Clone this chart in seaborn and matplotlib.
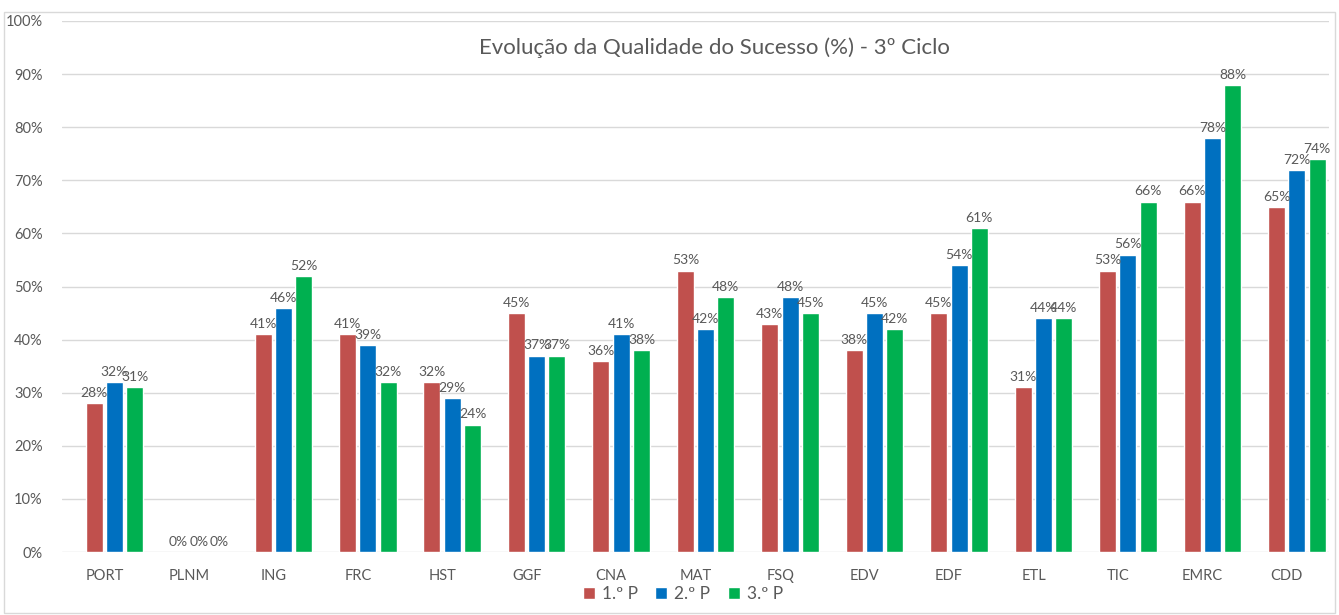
import pandas as pd
import numpy as np
import seaborn as sns
import matplotlib.pyplot as plt
from matplotlib.patches import Rectangle
from matplotlib.transforms import ScaledTranslation

# disciplinas e valores (%) por periodo
disciplinas = ['PORT', 'PLNM', 'ING', 'FRC', 'HST', 'GGF', 'CNA', 'MAT', 'FSQ', 'EDV', 'EDF', 'ETL', 'TIC', 'EMRC', 'CDD']
p1 = [28, 0, 41, 41, 32, 45, 36, 53, 43, 38, 45, 31, 53, 66, 65]
p2 = [32, 0, 46, 39, 29, 37, 41, 42, 48, 45, 54, 44, 56, 78, 72]
p3 = [31, 0, 52, 32, 24, 37, 38, 48, 45, 42, 61, 44, 66, 88, 74]
periodos = ['1.º P', '2.º P', '3.º P']
cores = ['#C0504D', '#0070C0', '#00B050']

rows = []
for serie, nome in zip([p1, p2, p3], periodos):
    for d, v in zip(disciplinas, serie):
        rows.append({'Disciplina': d, 'Periodo': nome, 'Valor': v})
df = pd.DataFrame(rows)

sns.set_style('white')
plt.rcParams['font.family'] = ['Lato', 'DejaVu Sans']
cinza = '#595959'

fig = plt.figure(figsize=(13.39, 6.15), dpi=100)
ax = fig.add_axes([62 / 1339, 1 - 552 / 615, 1267 / 1339, 531 / 615])

sns.barplot(data=df, x='Disciplina', y='Valor', hue='Periodo', palette=cores,
            saturation=1, width=0.72, gap=0.16, ax=ax, zorder=3)

for cont in ax.containers:
    vals = [b.get_height() for b in cont]
    ax.bar_label(cont, labels=[f'{v:.0f}%' for v in vals], padding=3,
                 fontsize=10, color=cinza)

ax.set_ylim(0, 100)
ax.set_xlim(-0.62, len(disciplinas) - 0.62)
ax.set_yticks(np.arange(0, 101, 10))
ax.set_yticklabels([f'{t}%' for t in range(0, 101, 10)])
ax.grid(axis='y', color='#D9D9D9', linewidth=1, zorder=0)
for s in ax.spines.values():
    s.set_visible(False)
ax.tick_params(axis='both', length=0, labelsize=10.5, colors=cinza)
ax.tick_params(axis='x', pad=12)
ax.tick_params(axis='y', pad=14)
# no Excel os rotulos ficam um pouco a esquerda das barras
desl = ScaledTranslation(-10 / 100, 0, fig.dpi_scale_trans)
for lab in ax.get_xticklabels():
    lab.set_transform(lab.get_transform() + desl)
ax.set_xlabel('')
ax.set_ylabel('')

ax.text(0.515, 0.949, 'Evolução da Qualidade do Sucesso (%) - 3º Ciclo', transform=ax.transAxes,
        ha='center', va='center', fontsize=16, color=cinza)

ax.legend(loc='upper center', bbox_to_anchor=(0.49, -0.034), ncol=3, frameon=False,
          fontsize=12.5, handlelength=0.7, handleheight=0.7, handletextpad=0.4,
          columnspacing=1.0, labelcolor=cinza)

# moldura do grafico
fig.patches.append(Rectangle((0.003, 0.003), 0.994, 0.978, transform=fig.transFigure,
                             fill=False, edgecolor='#D9D9D9', linewidth=1))

fig.savefig('out.png', dpi=100)
